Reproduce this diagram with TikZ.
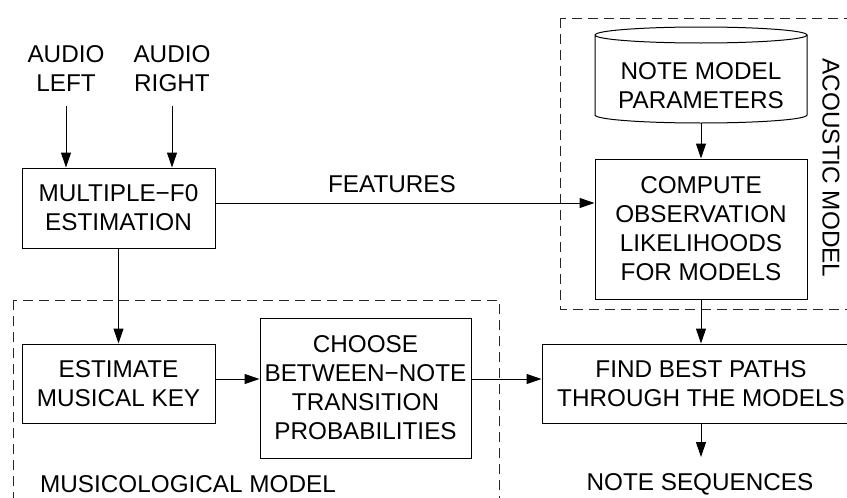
\documentclass[tikz,border=0pt]{standalone}
\usepackage{fontspec}
\setmainfont{Liberation Sans}
\usetikzlibrary{arrows.meta}
\begin{document}
\begin{tikzpicture}[x=1pt,y=-1pt,
  every node/.style={font=\fontsize{24.3}{29}\selectfont, inner sep=0pt, align=center},
  blk/.style={draw, line width=1pt},
  arr/.style={line width=1pt, -{Triangle[length=15pt,width=10pt]}},
  grp/.style={draw=black!85, line width=1pt, dash pattern=on 10pt off 6pt}]
\clip (0,0) rectangle (847,498);
\useasboundingbox (0,0) rectangle (847,498);
% group frames
\draw[grp] (560,18) rectangle (880,309);
\draw[grp] (13,300) rectangle (499,520);
% inputs
\node (al) at (66,69) {AUDIO\\LEFT};
\node (ar) at (172,69) {AUDIO\\RIGHT};
\node[blk, minimum width=193pt, minimum height=80pt] (mf) at (118.5,208) {MULTIPLE−F0\\ESTIMATION};
\draw[arr] ([yshift=-14pt]al.south) -- (al.south |- mf.north);
\draw[arr] ([yshift=-14pt]ar.south) -- (ar.south |- mf.north);
% acoustic model
\node (nmp) at (701,86) {NOTE MODEL\\PARAMETERS};
\coordinate (cyltl) at (595,35);
\coordinate (cylbl) at (595,115);
\coordinate (cylbot) at (701,123);
\draw[line width=1pt] (cylbl) -- (cyltl) arc[start angle=180, end angle=0, x radius=106pt, y radius=8pt]
  arc[start angle=0, end angle=-180, x radius=106pt, y radius=8pt];
\draw[line width=1pt] (cyltl) ++(212,0) -- ++(0,80) arc[start angle=0, end angle=-180, x radius=106pt, y radius=8pt];
\node[blk, minimum width=212pt, minimum height=140pt] (cmp) at (701,229) {COMPUTE\\OBSERVATION\\LIKELIHOODS\\FOR MODELS};
\draw[arr] (cylbot) -- (cmp.north);
\node[rotate=-90] (acm) at (831,168) {ACOUSTIC MODEL};
% features
\coordinate (fy) at (0,203);
\draw[arr] (mf.east |- fy) -- (cmp.west |- fy);
\node (feat) at (392,184) {FEATURES};
% musicological model
\node[blk, minimum width=193pt, minimum height=79pt] (ek) at (118.5,383.5) {ESTIMATE\\MUSICAL KEY};
\node[blk, minimum width=211pt, minimum height=140pt] (ch) at (365.5,388) {CHOOSE\\BETWEEN−NOTE\\TRANSITION\\PROBABILITIES};
\coordinate (my) at (0,379);
\draw[arr] (mf.south -| ek.north) -- (ek.north);
\draw[arr] (ek.east |- my) -- (ch.west |- my);
\node (mm) at (188,484) {MUSICOLOGICAL MODEL};
% best paths
\node[blk, minimum width=318pt, minimum height=79pt] (fb) at (701,383.5) {FIND BEST PATHS\\THROUGH THE MODELS};
\draw[arr] (ch.east |- my) -- (fb.west |- my);
\draw[arr] (cmp.south) -- (fb.north);
\node (ns) at (700,484) {NOTE SEQUENCES};
\coordinate (nsin) at (701,457);
\draw[arr] (fb.south) -- (nsin);
\end{tikzpicture}
\end{document}
